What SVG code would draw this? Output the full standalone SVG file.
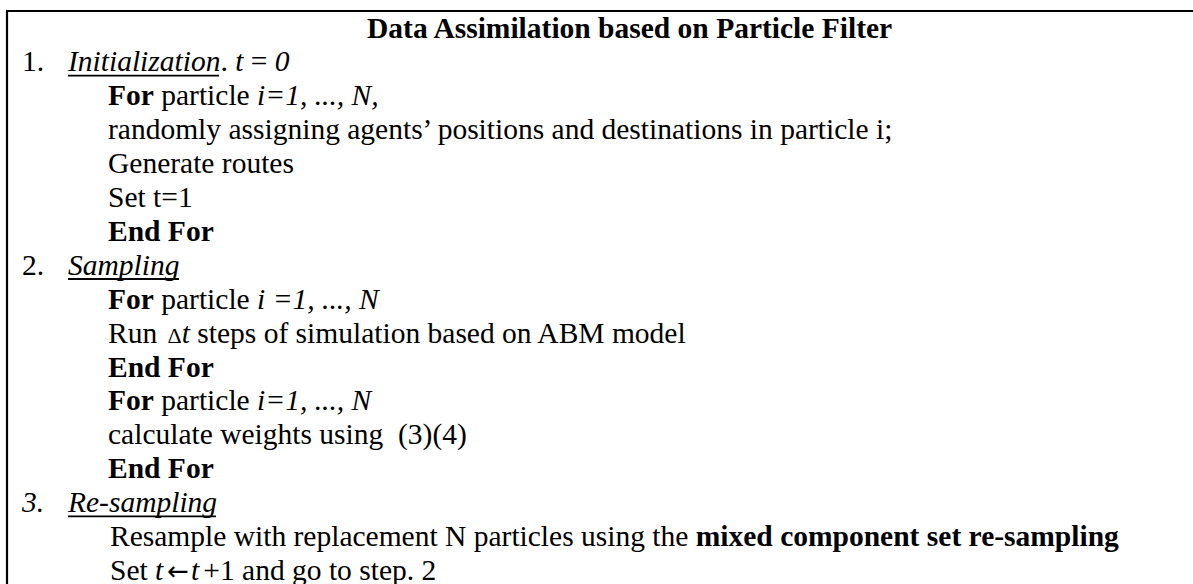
<svg xmlns="http://www.w3.org/2000/svg" width="1193" height="584" viewBox="0 0 1193 584">
  <style>
    text { font-family: "Liberation Serif", "Times New Roman", serif; font-size: 29.5px; fill: #000; white-space: pre; }
    .b { font-weight: bold; }
    .i { font-style: italic; }
    .arrow { font-family: "DejaVu Sans", sans-serif; font-size: 26px; }
    .frame { fill: none; stroke: #000; stroke-width: 2.2; }
    .ul { stroke: #000; stroke-width: 1.8; }
  </style>
  <rect width="1193" height="584" fill="#fff"/>
  <!-- table frame: left and top rules, continuing past the page edges -->
  <path class="frame" d="M7,584 V11 H1193"/>

  <g id="title">
    <text class="b" x="367" y="38">Data Assimilation based on Particle Filter</text>
  </g>

  <!-- step 1 -->
  <g id="step1">
    <text x="22" y="71.4">1.</text>
    <text x="68" y="71.4"><tspan class="i">Initialization</tspan>. <tspan class="i">t</tspan> = <tspan class="i">0</tspan></text>
    <line class="ul" x1="68" y1="75.6" x2="219" y2="75.6"/>
    <text x="108" y="105.3"><tspan class="b">For</tspan> particle <tspan class="i">i=1, ..., N,</tspan></text>
    <text x="108" y="139.2">randomly assigning agents’ positions and destinations in particle i;</text>
    <text x="108" y="173.1">Generate routes</text>
    <text x="108" y="207">Set t=1</text>
    <text class="b" x="108" y="240.9">End For</text>
  </g>

  <!-- step 2 -->
  <g id="step2">
    <text x="22" y="274.8">2.</text>
    <text class="i" x="68" y="274.8">Sampling</text>
    <line class="ul" x1="68" y1="279" x2="179" y2="279"/>
    <text x="108" y="308.7"><tspan class="b">For</tspan> particle <tspan class="i">i =1, ..., N</tspan></text>
    <text x="108" y="342.6">Run <tspan font-size="22" dx="3">Δ</tspan><tspan class="i">t</tspan> steps of simulation based on ABM model</text>
    <text class="b" x="108" y="376.5">End For</text>
    <text x="108" y="410.4"><tspan class="b">For</tspan> particle <tspan class="i">i=1, ..., N</tspan></text>
    <text x="108" y="444.3">calculate weights using  (3)(4)</text>
    <text class="b" x="108" y="478.2">End For</text>
  </g>

  <!-- step 3 -->
  <g id="step3">
    <text class="i" x="22" y="512.1">3.</text>
    <text class="i" x="68" y="512.1">Re-sampling</text>
    <line class="ul" x1="68" y1="516.3" x2="216" y2="516.3"/>
    <text x="110" y="546">Resample with replacement N particles using the <tspan class="b">mixed component set re-sampling</tspan></text>
    <text x="110" y="579.9">Set <tspan class="i">t</tspan><tspan class="arrow" dx="4">←</tspan><tspan class="i" dx="2">t</tspan><tspan dx="4">+1 and go to step. 2</tspan></text>
  </g>
</svg>
